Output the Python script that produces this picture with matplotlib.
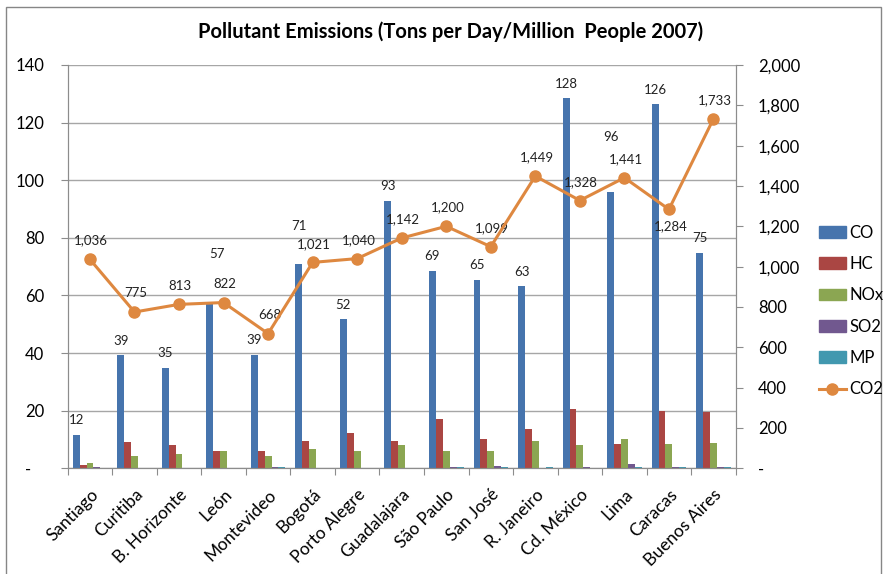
# Pollutant emissions per million people, 2007 - bars plus CO2 line on a second axis

import numpy as np
import matplotlib
matplotlib.use("Agg")
import matplotlib.pyplot as plt
from matplotlib.patches import Rectangle
from matplotlib.lines import Line2D
from matplotlib.ticker import FuncFormatter, MultipleLocator

plt.rcParams['font.family'] = ['Lato', 'DejaVu Sans']

# Data
cities = ['Santiago', 'Curitiba', 'B. Horizonte', 'León', 'Montevideo', 'Bogotá',
          'Porto Alegre', 'Guadalajara', 'São Paulo', 'San José', 'R. Janeiro',
          'Cd. México', 'Lima', 'Caracas', 'Buenos Aires']
co = [11.6, 39.2, 34.9, 57.2, 39.4, 70.8, 51.8, 92.8, 68.6, 65.4, 63.2, 128.4, 95.9, 126.4, 74.8]
hc = [1.1, 9.2, 8.1, 6.0, 6.0, 9.5, 12.3, 9.5, 17.0, 10.2, 13.6, 20.7, 8.4, 20.0, 19.6]
nox = [2.0, 4.3, 5.0, 6.0, 4.3, 6.7, 6.0, 8.1, 6.0, 6.0, 9.5, 8.1, 10.2, 8.4, 8.9]
so2 = [0.3, 0.2, 0.2, 0.2, 0.5, 0.2, 0.2, 0.2, 0.6, 0.9, 0.2, 0.3, 1.6, 0.4, 0.5]
mp = [0.2, 0.2, 0.2, 0.2, 0.6, 0.1, 0.2, 0.2, 0.3, 0.6, 0.5, 0.1, 0.4, 0.4, 0.5]
co2 = [1036, 775, 813, 822, 668, 1021, 1040, 1142, 1200, 1099, 1449, 1328, 1441, 1284, 1733]

# Colours
c_co = '#4674AD'
c_hc = '#AA4643'
c_nox = '#8BA652'
c_so2 = '#71588F'
c_mp = '#4198AF'
c_co2 = '#DE8840'
grey = '#8C8C8C'

# labels that were dragged off their default spot (extra lift in points)
co_label_extra = {3: 25, 5: 17, 12: 29}
co2_label_below = [13]

fig = plt.figure(figsize=(8.86, 5.74), dpi=100)
ax = fig.add_axes([0.0764, 0.1841, 0.7540, 0.7027])
ax2 = ax.twinx()

x = np.arange(len(cities))
w = 0.155
series = [(co, c_co, 'CO'), (hc, c_hc, 'HC'), (nox, c_nox, 'NOx'),
          (so2, c_so2, 'SO2'), (mp, c_mp, 'MP')]
for k, (vals, col, name) in enumerate(series):
    ax.bar(x + (k - 2) * w, vals, width=w, color=col, label=name, zorder=2)

# CO labels
for i, v in enumerate(co):
    dy = 10.5 + co_label_extra.get(i, 0)
    dx = 5 if i == 3 else 0
    ax.annotate(f"{v:.0f}", (x[i] - 2 * w, v), xytext=(dx, dy), textcoords='offset points',
                ha='center', va='center', fontsize=9.5, color='#222222')

ax2.plot(x, co2, color=c_co2, lw=2.2, marker='o', markersize=8, zorder=5, label='CO2')
for i, v in enumerate(co2):
    dy = -12 if i in co2_label_below else 13.5
    ax2.annotate(f"{v:,}", (x[i], v), xytext=(1, dy), textcoords='offset points',
                 ha='center', va='center', fontsize=9.5, color='#222222')

# axes
ax.set_xlim(-0.5, len(cities) - 0.5)
ax.set_ylim(0, 140)
ax2.set_ylim(0, 2000)
ax.yaxis.set_major_locator(MultipleLocator(20))
ax2.yaxis.set_major_locator(MultipleLocator(200))
ax.yaxis.set_major_formatter(FuncFormatter(lambda v, p: '-   ' if v == 0 else f"{v:.0f}"))
ax2.yaxis.set_major_formatter(FuncFormatter(lambda v, p: '-' if v == 0 else f"{v:,.0f}"))

ax.set_xticks(np.arange(len(cities) + 1) - 0.5)
ax.set_xticklabels([])
ax.set_xticks(x, minor=True)
ax.set_xticklabels(cities, minor=True, rotation=45, ha='right', rotation_mode='anchor',
                   fontsize=12.5)
ax.tick_params(axis='x', which='major', length=5, color=grey, direction='out')
ax.tick_params(axis='x', which='minor', length=0, pad=13)
ax.tick_params(axis='y', length=5, color=grey, labelsize=12, pad=12)
ax2.tick_params(axis='y', length=5, color=grey, labelsize=12, pad=11)

ax.grid(axis='y', color='#A6A6A6', lw=1)
ax.set_axisbelow(True)
for a in (ax, ax2):
    a.spines['top'].set_visible(False)
    for s in ('left', 'right', 'bottom'):
        a.spines[s].set_color(grey)
ax2.set_zorder(ax.get_zorder() + 1)
ax2.patch.set_visible(False)

fig.text(0.508, 0.944, 'Pollutant Emissions (Tons per Day/Million  People 2007)',
         ha='center', va='center', fontsize=14.5, fontweight='bold')

# legend
handles = [Rectangle((0, 0), 1, 1, color=c) for _, c, _ in series]
handles.append(Line2D([], [], color=c_co2, lw=2.2, marker='o', markersize=8))
labels = [n for _, _, n in series] + ['CO2']
fig.legend(handles, labels, loc='center left', bbox_to_anchor=(0.917, 0.458),
           frameon=False, fontsize=12, handlelength=1.6, handleheight=0.7,
           handletextpad=0.2, labelspacing=0.92, borderaxespad=0)

# chart border
fig.patches.append(Rectangle((5.5 / 886, -0.02), 875 / 886, 1 - 7 / 574 + 0.02,
                             transform=fig.transFigure, fill=False, ec='#868686', lw=1))

plt.savefig('out.png', dpi=100)
